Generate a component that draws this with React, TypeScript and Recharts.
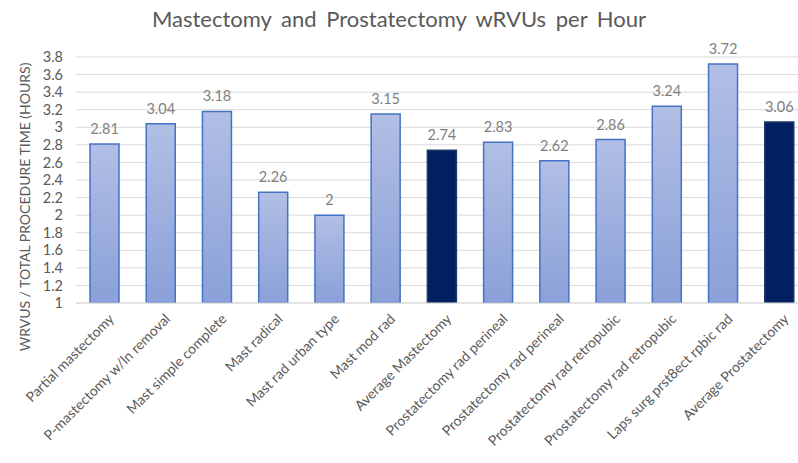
import { BarChart, Bar, XAxis, YAxis, CartesianGrid, LabelList, Cell } from "recharts";

const procedures = [
  "Partial mastectomy",
  "P-mastectomy w/ln removal",
  "Mast simple complete",
  "Mast radical",
  "Mast rad urban type",
  "Mast mod rad",
  "Average Mastectomy",
  "Prostatectomy rad perineal",
  "Prostatectomy rad perineal",
  "Prostatectomy rad retropubic",
  "Prostatectomy rad retropubic",
  "Laps surg prst8ect rpbic rad",
  "Average Prostatectomy",
];
const wrvuPerHour = [2.81, 3.04, 3.18, 2.26, 2.0, 3.15, 2.74, 2.83, 2.62, 2.86, 3.24, 3.72, 3.06];
const isAverage = [false, false, false, false, false, false, true, false, false, false, false, false, true];
const yTicks = [1, 1.2, 1.4, 1.6, 1.8, 2, 2.2, 2.4, 2.6, 2.8, 3, 3.2, 3.4, 3.6, 3.8];

const data = procedures.map((name, i) => ({
  key: i,
  name,
  value: wrvuPerHour[i],
  avg: isAverage[i],
}));

const FONT = "Lato, 'Noto Sans', sans-serif";

function AngledTick(props: any) {
  const { x, y, payload } = props;
  const label = procedures[payload.value] ?? "";
  return (
    <g transform={`translate(${x + 8},${y + 6})`}>
      <text
        textAnchor="end"
        transform="rotate(-45)"
        fontSize={14}
        fill="#595959"
        fontFamily={FONT}
        dy={4}
      >
        {label}
      </text>
    </g>
  );
}

// axis title sits a bit below the plot's middle, like the source
function YTitle() {
  return (
    <text
      x={0}
      y={0}
      transform="translate(30,207) rotate(-90)"
      textAnchor="middle"
      fontSize={14}
      fill="#595959"
      fontFamily={FONT}
    >
      WRVUS / TOTAL PROCEDURE TIME (HOURS)
    </text>
  );
}

export default function App() {
  return (
    <div
      style={{
        position: "absolute",
        left: 0,
        top: 0,
        width: 798,
        height: 463,
        overflow: "hidden",
        background: "#fff",
      }}
    >
      <div
        style={{
          position: "absolute",
          top: 5,
          left: 0,
          width: 798,
          textAlign: "center",
          fontFamily: FONT,
          fontSize: 22,
          color: "#595959",
          wordSpacing: 4,
        }}
      >
        Mastectomy and Prostatectomy wRVUs per Hour
      </div>
      <BarChart
        width={807}
        height={463}
        data={data}
        margin={{ top: 57, right: 0, left: 0, bottom: 0 }}
      >
        <defs>
          <linearGradient id="barGrad" x1="0" y1="0" x2="0" y2="1">
            <stop offset="0%" stopColor="#b2bfe5" />
            <stop offset="100%" stopColor="#8aa0d8" />
          </linearGradient>
        </defs>
        <CartesianGrid vertical={false} stroke="#d9d9d9" />
        <XAxis
          dataKey="key"
          type="category"
          interval={0}
          tick={<AngledTick />}
          tickLine={false}
          axisLine={{ stroke: "#d9d9d9" }}
          height={160}
        />
        <YAxis
          type="number"
          domain={[1, 3.8]}
          ticks={yTicks}
          interval={0}
          allowDataOverflow
          width={76}
          tickLine={false}
          axisLine={false}
          tick={{ fontSize: 14.5, fill: "#595959", fontFamily: FONT, dx: -5 }}
          tickFormatter={(v: number) => String(Math.round(v * 10) / 10)}
          label={{ content: <YTitle /> }}
        />
        <Bar dataKey="value" barSize={29} isAnimationActive={false}>
          {data.map((d) => (
            <Cell
              key={d.key}
              fill={d.avg ? "#002060" : "url(#barGrad)"}
              stroke={d.avg ? "#1f3864" : "#4472c4"}
              strokeWidth={1.5}
            />
          ))}
          <LabelList
            dataKey="value"
            position="top"
            offset={10}
            formatter={(v: number) => String(v)}
            style={{ fontSize: 14.5, fill: "#7f7f7f", fontFamily: FONT }}
          />
        </Bar>
      </BarChart>
    </div>
  );
}
